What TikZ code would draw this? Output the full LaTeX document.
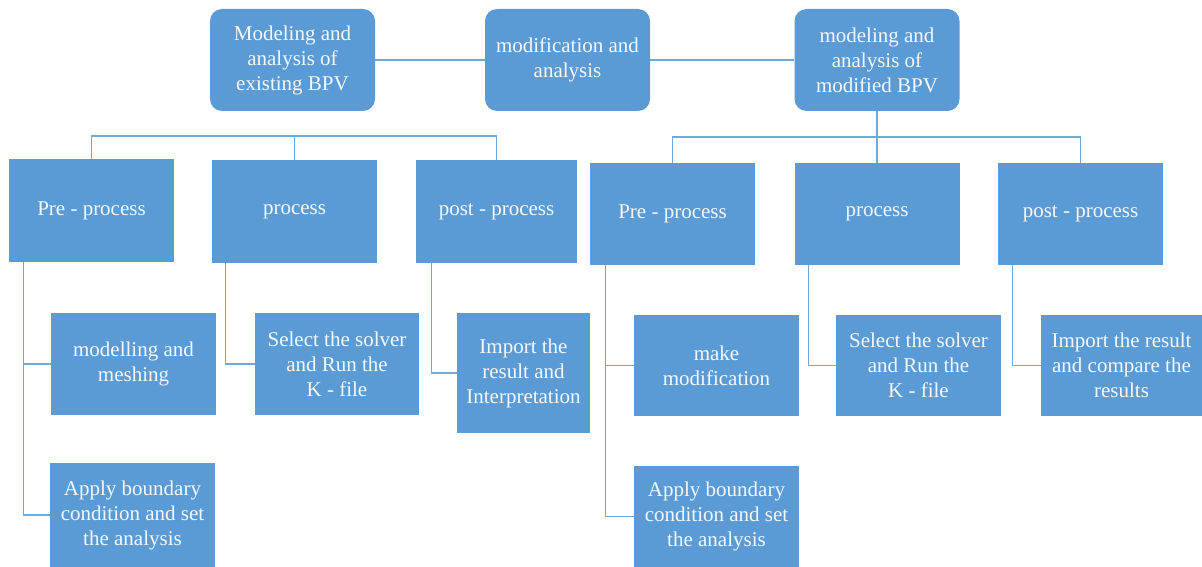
\documentclass[tikz,border=0pt]{standalone}
\usepackage{fontspec}
\setmainfont{Liberation Serif}
\definecolor{boxblue}{RGB}{91,155,213}
\definecolor{lineblue}{RGB}{112,168,222}
\definecolor{txt}{RGB}{245,247,250}
\tikzset{
  box/.style={fill=boxblue, text=txt, inner sep=0pt, align=center,
    font=\fontsize{21}{25}\selectfont},
  topbox/.style={box, rounded corners=12pt, minimum width=165, minimum height=102},
  midbox/.style={box, minimum width=165, minimum height=103},
  lowbox/.style={box, minimum width=165, minimum height=102},
  conn/.style={draw=lineblue, line width=1.3pt}
}
\begin{document}
\begin{tikzpicture}[x=1pt,y=-1pt]
\useasboundingbox (0,0) rectangle (1202,567);
% top level
\node[topbox] (A) at (292.5,60) {Modeling and\\analysis of\\existing BPV};
\node[topbox] (B) at (567.5,60) {modification and\\analysis};
\node[topbox] (C) at (877,60) {modeling and\\analysis of\\modified BPV};
% second level, left
\node[midbox] (PL) at (91.5,210.5) {Pre - process};
\node[midbox] (PrL) at (294.5,211.5) {process};
\node[midbox, minimum width=161] (PoL) at (496.5,211.5) {post - process};
% second level, right
\node[midbox, minimum height=102] (PR) at (672.5,214) {Pre - process};
\node[midbox, minimum height=102] (PrR) at (877,214) {process};
\node[midbox, minimum height=102] (PoR) at (1080.5,214) {post - process};
% third level, left
\node[lowbox] (MM) at (133.5,364) {modelling and\\meshing};
\node[lowbox, minimum height=104] (ApL) at (132.5,515) {Apply boundary\\condition and set\\the analysis};
\node[lowbox, minimum width=164] (SsL) at (337,364) {Select the solver\\and Run the\\K - file};
\node[lowbox, minimum width=133, minimum height=120] (ImL) at (523.5,373) {Import the\\result and\\Interpretation};
% third level, right
\node[lowbox, minimum height=101] (MkR) at (716.5,365.5) {make\\modification};
\node[lowbox, minimum height=101] (ApR) at (716.5,516.5) {Apply boundary\\condition and set\\the analysis};
\node[lowbox, minimum height=101] (SsR) at (918.5,365.5) {Select the solver\\and Run the\\K - file};
\node[lowbox, minimum width=161, minimum height=101] (ImR) at (1121.5,365.5) {Import the result\\and compare the\\results};
% top connectors
\draw[conn] (A.east) -- (B.west);
\draw[conn] (B.east) -- (C.west);
% left bus
\coordinate (busL) at (294.5,136);
\draw[conn] (PL.north) |- (busL) -| (PoL.north);
\draw[conn] (PrL.north) -- (busL);
% right bus
\coordinate (busR) at (877,137);
\draw[conn] (C.south) -- (PrR.north);
\draw[conn] (PR.north) |- (busR) -| (PoR.north);
% left trunks
\coordinate (tPL) at ([xshift=15pt]PL.south west);
\draw[conn] (tPL) |- (ApL.west);
\draw[conn] (MM.west) -- (MM.west -| tPL);
\coordinate (tPrL) at ([xshift=14pt]PrL.south west);
\draw[conn] (tPrL) |- (SsL.west);
\coordinate (tPoL) at ([xshift=16pt]PoL.south west);
\draw[conn] (tPoL) |- (ImL.west);
% right trunks
\coordinate (tPR) at ([xshift=16pt]PR.south west);
\draw[conn] (tPR) |- (ApR.west);
\draw[conn] (MkR.west) -- (MkR.west -| tPR);
\coordinate (tPrR) at ([xshift=14pt]PrR.south west);
\draw[conn] (tPrR) |- (SsR.west);
\coordinate (tPoR) at ([xshift=15pt]PoR.south west);
\draw[conn] (tPoR) |- (ImR.west);
\end{tikzpicture}
\end{document}
